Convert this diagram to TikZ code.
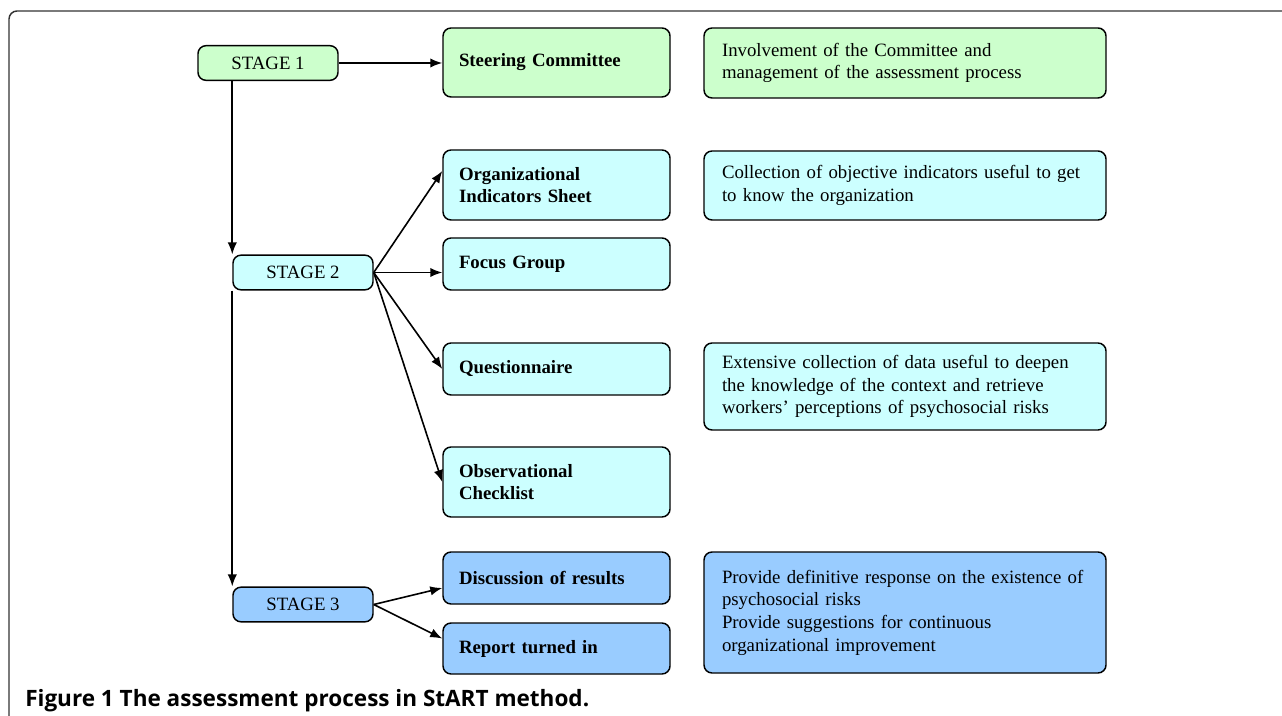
\documentclass[tikz,border=0pt]{standalone}
\usepackage{fontspec}
\setmainfont{Liberation Serif}
\newfontfamily\capfont{Open Sans}
\usetikzlibrary{arrows.meta}

\definecolor{stageone}{RGB}{204,255,204}
\definecolor{stagetwo}{RGB}{204,255,255}
\definecolor{stagethree}{RGB}{153,204,255}

\begin{document}
\begin{tikzpicture}[x=0.75pt,y=0.75pt,yscale=-1,xscale=1,
  box/.style={draw=black, line width=1.1pt, rounded corners=6pt, font=\fontsize{14.1}{17}\selectfont},
  stagebox/.style={box, minimum width=105pt, minimum height=26pt, inner sep=0pt},
  taskbox/.style={box, font=\fontsize{14.1}{17}\selectfont\bfseries, text width=146.25pt, inner xsep=12pt, inner ysep=0pt, align=left},
  descbox/.style={box, text width=274.5pt, inner xsep=13.5pt, inner ysep=0pt, align=left},
  arr/.style={-{Latex[length=9pt,width=7pt]}, line width=1.2pt},
  frame/.style={draw=black!80, line width=1.1pt, rounded corners=6pt}
]
\useasboundingbox (0,0) rectangle (1282,716);
\draw[frame] (9,716) -- (9,11) -- (1282,11);

\node[stagebox, fill=stageone] (s1) at (268,63) {STAGE 1};
\node[stagebox, fill=stagetwo] (s2) at (303,272.5) {STAGE 2};
\node[stagebox, fill=stagethree] (s3) at (303,604.5) {STAGE 3};

\node[taskbox, fill=stageone, minimum height=51.75pt] (sc) at (556.5,62.5) {Steering Committee};
\node[taskbox, fill=stagetwo, minimum height=52.5pt] (ois) at (556.5,185) {Organizational\\Indicators Sheet};
\node[taskbox, fill=stagetwo, minimum height=39pt] (fg) at (556.5,264) {Focus Group};
\node[taskbox, fill=stagetwo, minimum height=39pt] (qn) at (556.5,369) {Questionnaire};
\node[taskbox, fill=stagetwo, minimum height=52.5pt] (oc) at (556.5,482) {Observational\\Checklist};
\node[taskbox, fill=stagethree, minimum height=39pt] (dr) at (556.5,578) {Discussion of results};
\node[taskbox, fill=stagethree, minimum height=38.25pt] (rt) at (556.5,648.5) {Report turned in};

\node[descbox, fill=stageone, minimum height=52.5pt] (d1) at (905,63) {Involvement of the Committee and\\management of the assessment process};
\node[descbox, fill=stagetwo, minimum height=51.75pt] (d2) at (905,185.5) {Collection of objective indicators useful to get\\to know the organization};
\node[descbox, fill=stagetwo, minimum height=65.25pt] (d3) at (905,386.5) {Extensive collection of data useful to deepen\\the knowledge of the context and retrieve\\workers' perceptions of psychosocial risks};
\node[descbox, fill=stagethree, minimum height=90.75pt] (d4) at (905,612.5) {Provide definitive response on the existence of\\psychosocial risks\\Provide suggestions for continuous\\organizational improvement};

\draw[arr] (s1.east) -- (s1.east -| sc.west);
\draw[arr] (s1.south -| s2.west) -- (s2.north west);
\draw[arr] (s2.south west) -- (s3.north west);
\draw[arr] (s2.east) -- (ois.173);
\draw[arr] (s2.east) -- (s2.east -| fg.west);
\draw[arr] (s2.east) -- (qn.west);
\draw[arr] (s2.east) -- (oc.west);
\draw[arr] (s3.east) -- (dr.185);
\draw[arr] (s3.east) -- (rt.175);

\node[anchor=base west, inner sep=0pt, font=\capfont\bfseries\fontsize{16.9}{19}\selectfont] (cap) at (25,706) {Figure 1 The assessment process in StART method.};
\end{tikzpicture}
\end{document}
